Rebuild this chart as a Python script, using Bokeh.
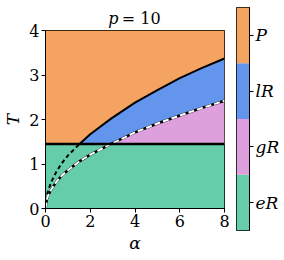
import numpy as np
from bokeh.plotting import figure
from bokeh.layouts import row, column
from bokeh.models import Range1d, FixedTicker, Div
from bokeh.embed import file_html
from bokeh.resources import INLINE

# ---- data ----
alpha = [0, 0.05, 0.1, 0.25, 0.5, 0.75, 1, 1.52, 2, 2.93, 4, 5, 6, 7, 8]
T_upper = [0, 0.26, 0.37, 0.59, 0.84, 1.03, 1.19, 1.45, 1.67, 2.02, 2.38, 2.66, 2.93, 3.16, 3.37]
T_lower = [0, 0.19, 0.27, 0.42, 0.61, 0.75, 0.86, 1.06, 1.21, 1.45, 1.71, 1.91, 2.09, 2.26, 2.42]
T_c = 1.45
alpha_max = 8
T_max = 4
x_ticks = [0, 2, 4, 6, 8]
y_ticks = [0, 1, 2, 3, 4]
phase_labels = ["eR", "gR", "lR", "P"]
phase_colors = ["#66CDAA", "#DDA0DD", "#6495ED", "#F4A460"]
title_var = "p"
title_rest = "= 10"

FONT = "DejaVu Serif"

a = np.array(alpha, dtype=float)
tu = np.array(T_upper, dtype=float)
tl = np.array(T_lower, dtype=float)
tc = np.full_like(a, T_c)
top = np.full_like(a, T_max)
zero = np.zeros_like(a)

p = figure(width=230, height=240, output_backend="svg", toolbar_location=None,
           x_range=Range1d(0, alpha_max), y_range=Range1d(0, T_max),
           min_border_left=45, min_border_right=6, min_border_top=10, min_border_bottom=52)
p.grid.visible = False
p.outline_line_color = "black"
p.outline_line_width = 1
p.border_fill_color = None
p.background_fill_color = phase_colors[3]

p.varea(x=a, y1=tc, y2=top, fill_color=phase_colors[3])
p.varea(x=a, y1=np.maximum(tl, tc), y2=np.maximum(tu, tc), fill_color=phase_colors[2])
p.varea(x=a, y1=tc, y2=np.maximum(tl, tc), fill_color=phase_colors[1])
p.varea(x=a, y1=zero, y2=tc, fill_color=phase_colors[0])

m_hi = tu >= T_c - 1e-9
m_lo = tu <= T_c + 1e-9
p.line(a[m_lo], tu[m_lo], line_color="black", line_width=2, line_dash="4 3")
p.line(a[m_hi], tu[m_hi], line_color="black", line_width=2)

p.line(a, tl, line_color="black", line_width=2.5)
p.line(a, tl, line_color="white", line_width=2, line_dash="6 3")

p.line([0, alpha_max], [T_c, T_c], line_color="black", line_width=2.5)

for ax in (p.xaxis[0], p.yaxis[0]):
    ax.major_label_text_font = FONT
    ax.major_label_text_font_size = "16px"
    ax.major_label_text_color = "black"
    ax.axis_label_text_font = FONT
    ax.axis_label_text_font_size = "17px"
    ax.axis_label_text_font_style = "italic"
    ax.axis_label_text_color = "black"
    ax.major_tick_out = 4
    ax.major_tick_in = 0
    ax.minor_tick_out = 0
    ax.minor_tick_in = 0
    ax.axis_line_color = "black"
    ax.major_tick_line_color = "black"
    ax.major_label_standoff = 2
    ax.axis_label_standoff = 3

p.xaxis.ticker = FixedTicker(ticks=x_ticks)
p.yaxis.ticker = FixedTicker(ticks=y_ticks)
p.xaxis.axis_label = "α"
p.yaxis.axis_label = "T"

title_html = (
    '<div style="position:absolute; left:45px; top:9px; width:179px; text-align:center; '
    "font-family:'DejaVu Serif'; font-size:16px; line-height:20px; color:black; white-space:nowrap;\">"
    f"<i>{title_var}</i>&#8201;{title_rest}</div>"
)
title_div = Div(text=title_html, width=230, height=20, margin=0,
                styles={"position": "relative", "overflow": "visible"})

n = len(phase_labels)
cb = figure(width=54, height=260, output_backend="svg", toolbar_location=None,
            x_range=Range1d(0, 1), y_range=Range1d(0, n),
            min_border_left=6, min_border_right=35, min_border_top=7, min_border_bottom=30,
            y_axis_location="right")
cb.grid.visible = False
cb.xaxis.visible = False
cb.outline_line_color = "black"
cb.outline_line_width = 1
idx = np.arange(n)
cb.quad(left=0, right=1, bottom=idx, top=idx + 1, fill_color=phase_colors, line_color=None)
cb.yaxis.ticker = FixedTicker(ticks=list(idx + 0.5))
cb.yaxis.major_label_overrides = {float(i + 0.5): lab for i, lab in enumerate(phase_labels)}
cb.yaxis.major_label_text_font = FONT
cb.yaxis.major_label_text_font_size = "17px"
cb.yaxis.major_label_text_font_style = "italic"
cb.yaxis.major_label_text_color = "black"
cb.yaxis.major_tick_out = 4
cb.yaxis.major_tick_in = 0
cb.yaxis.minor_tick_out = 0
cb.yaxis.minor_tick_in = 0
cb.yaxis.major_label_standoff = 2
cb.yaxis.axis_line_color = "black"

layout = row(column(title_div, p, spacing=0), cb, spacing=0)
open("out.html", "w").write(file_html(layout, INLINE))
